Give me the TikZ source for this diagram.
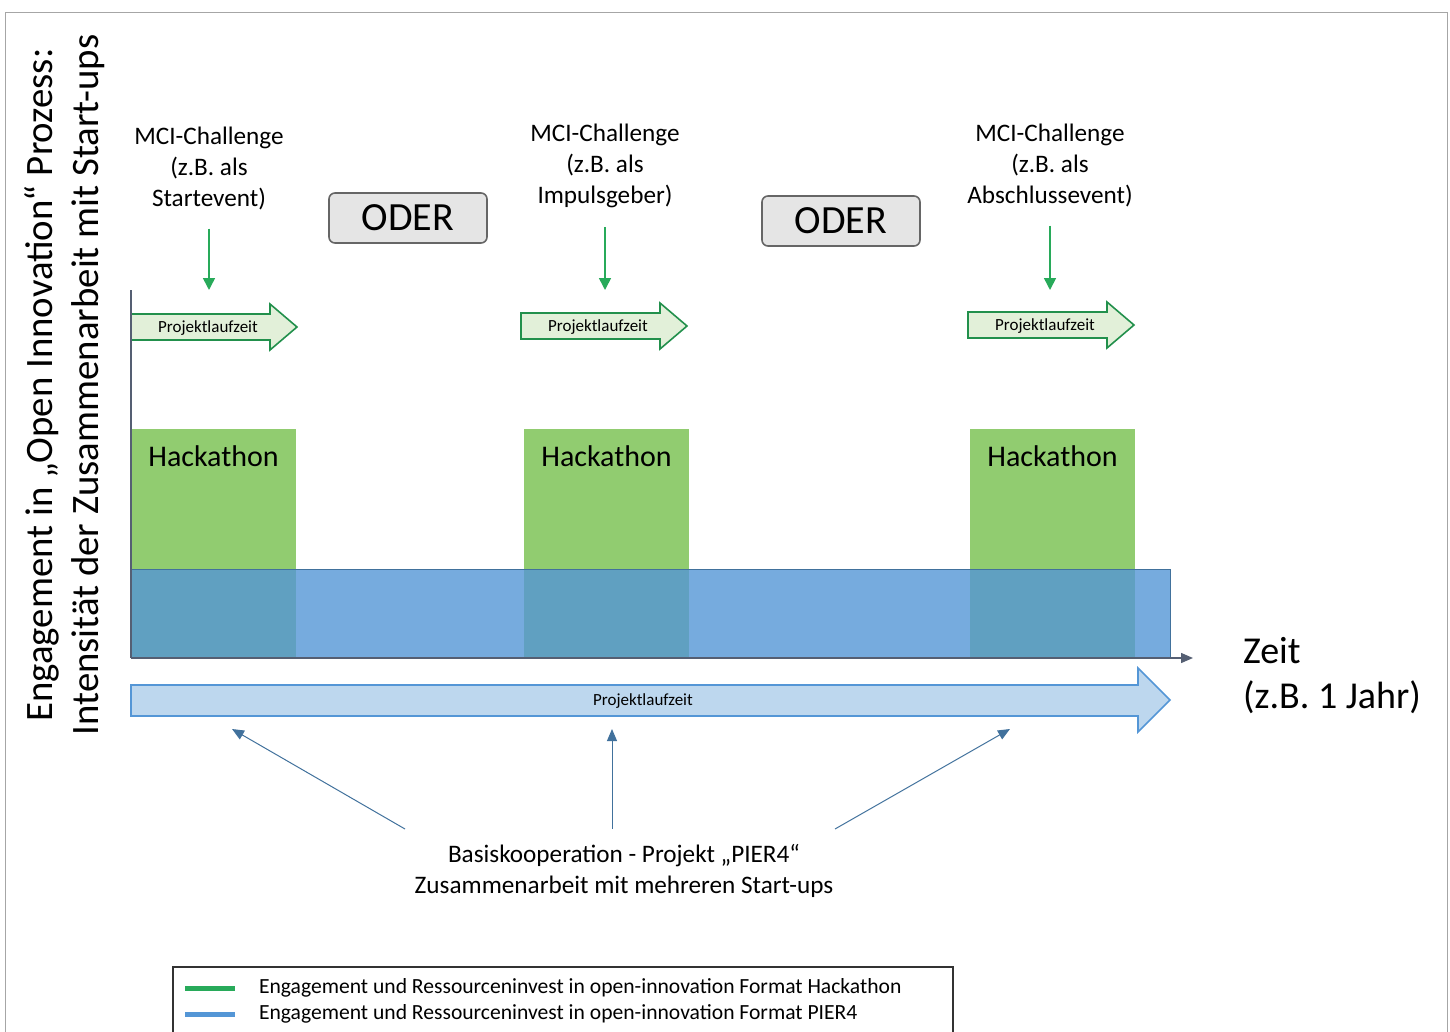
\documentclass[tikz,border=0pt]{standalone}
\usepackage{fontspec}
\setmainfont{Carlito}
\usetikzlibrary{arrows.meta}
\definecolor{hackgreen}{RGB}{145,204,112}
\definecolor{pierblue}{RGB}{84,150,214}
\definecolor{pierline}{RGB}{65,113,156}
\definecolor{lightgreen}{RGB}{226,240,217}
\definecolor{arrowgreen}{RGB}{40,170,90}
\definecolor{lightblue}{RGB}{189,215,238}
\definecolor{axisgray}{RGB}{85,95,115}
\begin{document}
\begin{tikzpicture}[x=0.5pt,y=-0.5pt,
  mci/.style={align=center,font=\fontsize{12.6}{15.5}\selectfont},
  oder/.style={draw=black!60,line width=0.8pt,fill=black!10,rounded corners=3pt,
    minimum width=79pt,minimum height=25pt,font=\fontsize{20}{22}\selectfont},
  laufzeit/.style={font=\fontsize{8.5}{10}\selectfont},
  gdown/.style={draw=arrowgreen,line width=0.8pt,-{Triangle[width=6pt,length=6pt]}},
  bup/.style={draw=pierline,line width=0.5pt,-{Triangle[width=5pt,length=6pt]}}]
\useasboundingbox (0,0) rectangle (1450,1032);
\clip (0,0) rectangle (1450,1032);
\draw[black!35] (5,12) rectangle (1447,1060);

% hackathon bars, challenges and small arrows
\foreach \i/\xa/\xb/\xm/\ym/\ar/\ay in {1/131/296/209/168/131/327,2/524/689/605/166/521/326,3/970/1135/1050/165/968/325}{
  \fill[hackgreen] (\xa,429) rectangle (\xb,658);
  \node[font=\fontsize{15}{18}\selectfont] (h\i) at ({(\xa+\xb)/2},456) {Hackathon};
  \node[mci] (m\i) at (\xm,\ym) {MCI-Challenge\\(z.B. als\\\ifcase\i\or Startevent)\or Impulsgeber)\or Abschlussevent)\fi};
  \coordinate (t\i) at (\xm,290);
  \draw[gdown] (m\i.south) ++(0,12) -- (t\i);
  \draw[draw=arrowgreen!85!black,line width=0.8pt,fill=lightgreen]
    (\ar,\ay-13) -- (\ar+139,\ay-13) -- (\ar+139,\ay-23) -- (\ar+166,\ay)
    -- (\ar+139,\ay+23) -- (\ar+139,\ay+13) -- (\ar,\ay+13) -- cycle;
  \node[laufzeit] (p\i) at (\ar+77,\ay+1) {Projektlaufzeit};
}

\node[oder] (or1) at (408,218) {ODER};
\node[oder] (or2) at (841,221) {ODER};

% basis PIER4
\fill[pierblue,opacity=0.8] (131,569) rectangle (1170,658);
\draw[pierline,line width=0.5pt] (131,569) rectangle (1170,658);

% axes
\coordinate (o) at (131,658);
\coordinate (ytop) at (131,290);
\coordinate (xend) at (1193,658);
\draw[axisgray,line width=0.7pt] (ytop) -- (o);
\draw[axisgray,line width=0.7pt,-{Triangle[width=5pt,length=6pt]}] (o) -- (xend);
\node[anchor=west,align=left,font=\fontsize{19}{22.5}\selectfont] (zeit) at (1236,676) {Zeit\\(z.B. 1 Jahr)};
\node[rotate=90,align=center,font=\fontsize{19.4}{23}\selectfont] (ylab) at (65,385)
  {Engagement in „Open Innovation“ Prozess:\\Intensität der Zusammenarbeit mit Start-ups};

% big arrow
\draw[pierblue,line width=0.8pt,fill=lightblue]
  (131,685) -- (1138,685) -- (1138,668) -- (1170,700) -- (1138,732) -- (1138,716) -- (131,716) -- cycle;
\node[laufzeit] (pbig) at (643,701) {Projektlaufzeit};

\node[mci] (coop) at (624,871) {Basiskooperation - Projekt „PIER4“\\Zusammenarbeit mit mehreren Start-ups};
\coordinate (b1) at (405,829);
\coordinate (b2) at (612,829);
\coordinate (b3) at (835,829);
\coordinate (e1) at (232,729);
\coordinate (e2) at (612,729);
\coordinate (e3) at (1010,729);
\foreach \i in {1,2,3} \draw[bup] (b\i) -- (e\i);

% legend
\draw[black!80,line width=0.6pt] (173,967) rectangle (953,1060);
\draw[arrowgreen,line width=2.5pt] (185,988) -- (235,988);
\draw[pierblue,line width=2.5pt] (185,1014) -- (235,1014);
\node[anchor=west,font=\fontsize{10.8}{13}\selectfont] (lg1) at (252,988) {Engagement und Ressourceninvest in open-innovation Format Hackathon};
\node[anchor=west,font=\fontsize{10.8}{13}\selectfont] (lg2) at (252,1014) {Engagement und Ressourceninvest in open-innovation Format PIER4};
\end{tikzpicture}
\end{document}
